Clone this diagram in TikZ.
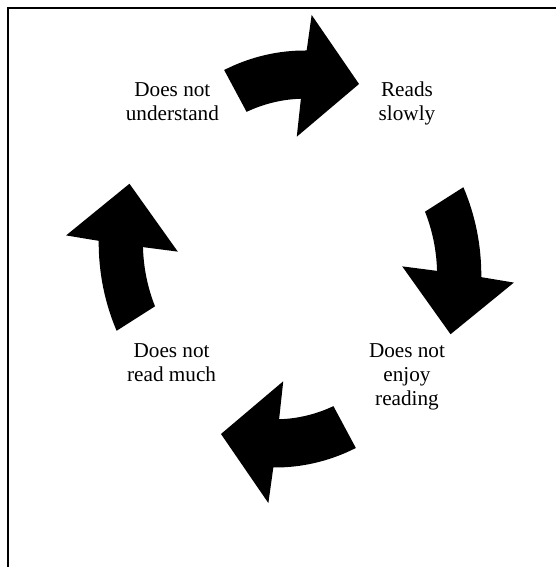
\documentclass[tikz,border=0pt]{standalone}
\usepackage{fontspec}
\setmainfont{Liberation Serif}
\begin{document}
\begin{tikzpicture}[x=1pt,y=1pt,
  lbl/.style={font=\fontsize{21.2}{24.2}\selectfont, align=center, inner sep=0pt, anchor=base},
  cyclearrow/.style={fill=black, draw=none},
  frameline/.style={line width=2pt, line join=miter}]
\useasboundingbox (0,0) rectangle (556,567);
\draw[frameline] (8,-2) -- (8,559) -- (558,559);
\foreach \r in {0,-90,-180,-270} {
  \begin{scope}[shift={(290,308)}, yscale=1.09, rotate=\r, shift={(15,0)}]
    \fill[cyclearrow] (115:191.3) arc[start angle=115, end angle=89.5, radius=191.3]
      -- (88.3:224) -- (71.4:169.4) -- (94.2:112.5) -- (91.6:147.1)
      arc[start angle=91.6, end angle=113.4, radius=147.1] -- cycle;
  \end{scope}
}
% anchor=base of a multi-line node is the baseline of its last line
\node[lbl] (understand) at (172.4,446) {Does not\\understand};
\node[lbl] (slowly) at (407,446) {Reads\\slowly};
\node[lbl] (enjoy) at (407,161) {Does not\\enjoy\\reading};
\node[lbl] (much) at (171.6,185) {Does not\\read much};
\end{tikzpicture}
\end{document}
